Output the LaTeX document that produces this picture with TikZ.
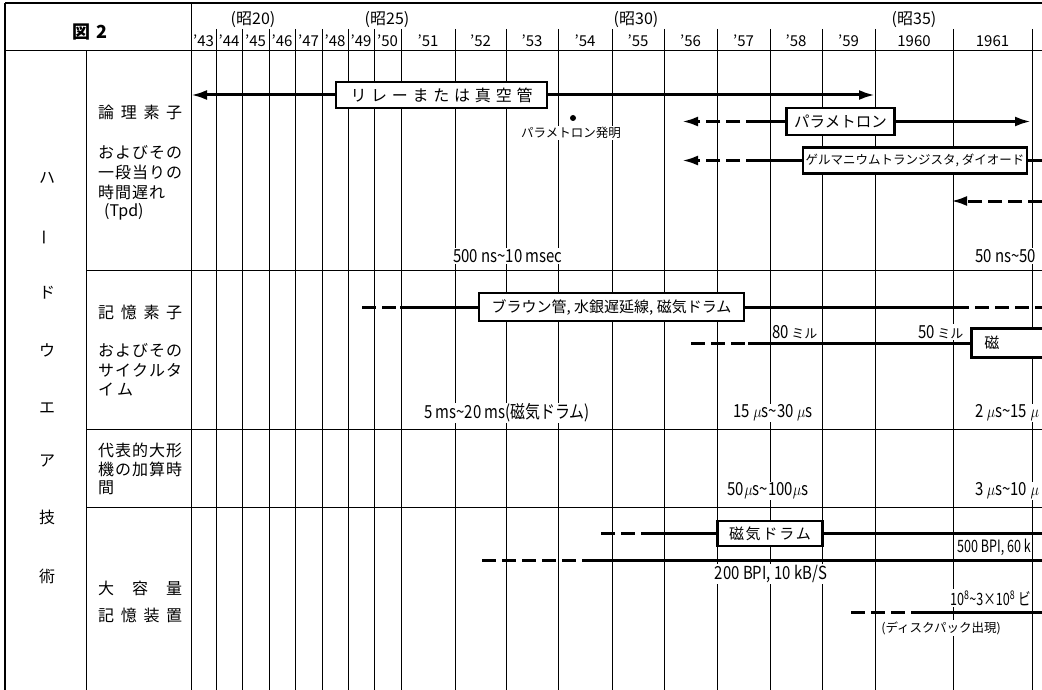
\documentclass[tikz,border=0pt]{standalone}
\usepackage{fontspec}
\setmainfont{Noto Sans CJK JP}
\usetikzlibrary{arrows.meta}
\newcommand{\wave}{\textasciitilde}
\newcommand{\fsz}[1]{\fontsize{#1}{#1}\selectfont}
\newcommand{\cnd}[1]{\scalebox{0.83}[1]{\fsz{18}#1}}
\newcommand{\cndn}[1]{\scalebox{0.74}[1]{\fsz{17}#1}}
\begin{document}
\begin{tikzpicture}[x=1pt,y=-1pt,
  gridline/.style={line width=1pt},
  frame/.style={line width=2.2pt},
  lbl/.style={inner sep=0pt, font=\fsz{16}, anchor=west},
  side/.style={inner sep=0pt, font=\fsz{16}},
  boxed/.style={draw, line width=2.6pt, fill=white, inner sep=0pt, minimum height=26pt, font=\fsz{15}},
  tag/.style={fill=white, inner sep=1pt, font=\fsz{14}},
  solidline/.style={line width=3pt},
  dashline/.style={line width=3pt, dash pattern=on 14pt off 6pt},
  arr/.style={-{Latex[length=16pt,width=10pt]}},
]
\useasboundingbox (0,0) rectangle (1042,690);
\clip (0,0) rectangle (1042,690);
% ---------- table grid ----------
\draw[frame] (5,3) -- (1042,3);
\draw[frame] (5,3) -- (5,690);
\draw[gridline] (5,51) -- (1042,51);
\foreach \y in {270,429,507} \draw[gridline] (86,\y) -- (1042,\y);
\draw[gridline] (86,51) -- (86,690);
\draw[gridline] (191,3) -- (191,690);
\foreach \x in {216,242,269,295,322,348,374,401,455,506,558,612,664,717,770,822,875,953,1032}
  \draw[gridline] (\x,29) -- (\x,690);
% ---------- header ----------
\node[side, font=\fsz{18}\bfseries] (fig) at (90,32) {図\hspace{6pt}2};
\foreach \a/\b/\t [count=\i] in {191/216/’43,216/242/’44,242/269/’45,269/295/’46,295/322/’47,322/348/’48,348/374/’49,374/401/’50,401/455/’51,455/506/’52,506/558/’53,558/612/’54,612/664/’55,664/717/’56,717/770/’57,770/822/’58,822/875/’59,875/953/1960,953/1032/1961}
  \node[side, font=\fsz{15}] (yr\i) at ({(\a+\b)/2},41) {\t};
\node[side] (era20) at (253,20) {(昭20)};
\node[side] (era25) at (387,20) {(昭25)};
\node[side] (era30) at (636,20) {(昭30)};
\node[side] (era35) at (914,20) {(昭35)};
% ---------- first column ----------
\node[side] (hw1) at (47,178) {ハ};
\node[side, rotate=90] (hw2) at (47,237) {ー};
\node[side] (hw3) at (47,293) {ド};
\node[side] (hw4) at (47,350) {ウ};
\node[side] (hw5) at (47,408) {エ};
\node[side] (hw6) at (47,461) {ア};
\node[side] (hw7) at (47,517) {技};
\node[side] (hw8) at (47,576) {術};
% ---------- second column ----------
\node[lbl] (c1a) at (98,112) {\makebox[84pt][s]{論\hfill 理\hfill 素\hfill 子}};
\node[lbl] (c1b) at (98,152) {\makebox[84pt][s]{お\hfill よ\hfill び\hfill そ\hfill の}};
\node[lbl] (c1c) at (98,172) {\makebox[84pt][s]{一\hfill 段\hfill 当\hfill り\hfill の}};
\node[lbl] (c1d) at (98,192) {\makebox[67pt][s]{時\hfill 間\hfill 遅\hfill れ}};
\node[lbl] (c1e) at (104,212) {(Tpd)};
\node[lbl] (c2a) at (98,312) {\makebox[84pt][s]{記\hfill 憶\hfill 素\hfill 子}};
\node[lbl] (c2b) at (98,350) {\makebox[84pt][s]{お\hfill よ\hfill び\hfill そ\hfill の}};
\node[lbl] (c2c) at (98,370) {\makebox[84pt][s]{サ\hfill イ\hfill ク\hfill ル\hfill タ}};
\node[lbl] (c2d) at (98,390) {\makebox[35pt][s]{イ\hfill ム}};
\node[lbl] (c3a) at (98,450) {\makebox[84pt][s]{代\hfill 表\hfill 的\hfill 大\hfill 形}};
\node[lbl] (c3b) at (98,469) {\makebox[84pt][s]{機\hfill の\hfill 加\hfill 算\hfill 時}};
\node[lbl] (c3c) at (98,488) {間};
\node[lbl] (c4a) at (98,588) {\makebox[84pt][s]{大\hfill 容\hfill 量}};
\node[lbl] (c4b) at (98,615) {\makebox[84pt][s]{記\hfill 憶\hfill 装\hfill 置}};
% ---------- logic elements ----------
\node[boxed, minimum width=211pt] (relay) at (441.5,95) {\makebox[182pt][s]{\fsz{16}リ\hfill レ\hfill ー\hfill ま\hfill た\hfill は\hfill 真\hfill 空\hfill 管}};
\node[circle, fill, inner sep=0pt, minimum size=6pt] (dot) at (573,118) {};
\node[tag, font=\fsz{12.5}] (pinv) at (571,133) {パラメトロン発明};
\node[boxed, minimum width=108pt, minimum height=27pt, font=\fsz{15.5}] (param) at (840.5,121.5) {パラメトロン};
\node[boxed, minimum width=224pt, font=\fsz{12.5}] (germ) at (915,160.5) {ゲルマニウムトランジスタ, ダイオード};
\node[tag, anchor=west] (t500) at (452,256) {\cnd{500 ns\wave 10 msec}};
\node[tag, anchor=west] (t50ns) at (974,256) {\cnd{50 ns\wave 50}};
% ---------- memory elements ----------
\node[boxed, minimum width=265pt, minimum height=28pt] (braun) at (611.5,307) {ブラウン管, 水銀遅延線, 磁気ドラム};
\node[boxed, anchor=west, minimum height=29pt] (core) at (970,343) {\makebox[110pt][l]{\hspace{13pt}磁}};
\node[tag] (m80) at (795,332) {\cnd{80}\,{\fsz{13}ミル}};
\node[tag] (m50) at (941,332) {\cnd{50}\,{\fsz{13}ミル}};
\node[tag] (t5ms) at (507,413) {\cnd{5 ms\wave 20 ms(磁気ドラム)}};
\node[tag] (t15) at (773,413) {\cnd{15 $\mu$s\wave 30 $\mu$s}};
\node[tag, anchor=west] (t2) at (974,413) {\cnd{2 $\mu$s\wave 15 $\mu$}};
% ---------- adder ----------
\node[tag] (t50) at (768,491) {\cnd{50$\mu$s\wave 100$\mu$s}};
\node[tag, anchor=west] (t3) at (974,491) {\cnd{3 $\mu$s\wave 10 $\mu$}};
% ---------- mass storage ----------
\node[boxed, minimum width=105pt, minimum height=25pt] (drum) at (770,533.5) {\makebox[82pt][s]{磁\hfill 気\hfill ド\hfill ラ\hfill ム}};
\node[tag, anchor=west] (t500b) at (956,547) {\cndn{500 BPI, 60 k}};
\node[tag] (t200) at (771,574) {\cnd{200 BPI, 10 kB/S}};
\node[tag, anchor=west] (t108) at (949,598) {\cndn{10\textsuperscript{8}\wave 3×10\textsuperscript{8} ビ}};
\node[tag, font=\fsz{12.5}] (tdisk) at (941,628) {(ディスクパック出現)};
% ---------- coordinates ----------
\coordinate (relayL) at (191,95);
\coordinate (relayR) at (875,95);
\coordinate (paramL) at (682,121.5);
\coordinate (paramM) at (760,121.5);
\coordinate (paramR) at (1031,121.5);
\coordinate (germL) at (682,160.5);
\coordinate (germM) at (760,160.5);
\coordinate (germR) at (1042,160.5);
\coordinate (icR) at (1042,201);
\coordinate (icL) at (951,201);
\coordinate (braunL0) at (362,307);
\coordinate (braunL1) at (400,307);
\coordinate (braunR1) at (955,307);
\coordinate (braunR2) at (1042,307);
\coordinate (coreL0) at (691,343);
\coordinate (coreL1) at (748,343);
\coordinate (drumL0) at (601,533.5);
\coordinate (drumL1) at (650,533.5);
\coordinate (drumR) at (1042,533.5);
\coordinate (tapeL0) at (482,560);
\coordinate (tapeL1) at (595,560);
\coordinate (tapeR) at (1042,560);
\coordinate (diskL0) at (851,612);
\coordinate (diskL1) at (912,612);
\coordinate (diskR) at (1042,612);
% ---------- connectors ----------
\draw[solidline, arr] (relay.west) -- (relayL);
\draw[solidline, arr] (relay.east) -- (relayR);
\draw[solidline] (param.west) -- (paramM);
\draw[dashline, arr] (paramM) -- (paramL);
\draw[solidline, arr] (param.east) -- (paramR);
\draw[solidline] (germ.west) -- (germM);
\draw[dashline, arr] (germM) -- (germL);
\draw[solidline] (germ.east) -- (germR);
\draw[dashline, arr] (icR) -- (icL);
\draw[dashline] (braunL0) -- (braunL1);
\draw[solidline] (braunL1) -- (braun.west);
\draw[solidline] (braun.east) -- (braunR1);
\draw[dashline] (braunR1) -- (braunR2);
\draw[dashline] (coreL0) -- (coreL1);
\draw[solidline] (coreL1) -- (core.west);
\draw[dashline] (drumL0) -- (drumL1);
\draw[solidline] (drumL1) -- (drum.west);
\draw[solidline] (drum.east) -- (drumR);
\draw[dashline] (tapeL0) -- (tapeL1);
\draw[solidline] (tapeL1) -- (tapeR);
\draw[dashline] (diskL0) -- (diskL1);
\draw[solidline] (diskL1) -- (diskR);
\end{tikzpicture}
\end{document}
